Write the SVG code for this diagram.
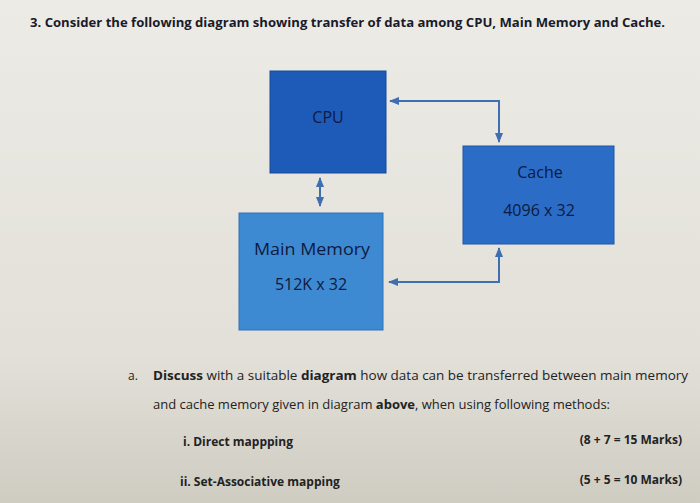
<svg xmlns="http://www.w3.org/2000/svg" width="700" height="503" viewBox="0 0 700 503">
<defs>
<linearGradient id="bg" x1="0" y1="0" x2="0" y2="1"><stop offset="0" stop-color="#ecebe6"/><stop offset="0.7" stop-color="#e2e0d8"/><stop offset="1" stop-color="#cfcdc2"/></linearGradient>
<marker id="ah" viewBox="0 0 10 10" refX="9" refY="5" markerWidth="5" markerHeight="5" orient="auto-start-reverse"><path d="M0,1 L10,5 L0,9 z" fill="#3f6fb0"/></marker>
<style>
text{font-family:"Open Sans","Liberation Sans",sans-serif;fill:#1a1a2a}
.b{font-weight:bold}
.n{font-size:16px;fill:#0e1a40}
.q{font-size:12px;fill:#222}
.c{fill:none;stroke:#3f6fb0;stroke-width:2}
</style>
</defs>
<rect width="700" height="503" fill="url(#bg)"/>
<text x="30" y="27" font-size="13" class="b" textLength="635" lengthAdjust="spacingAndGlyphs">3.  Consider the following diagram showing transfer of data among CPU, Main Memory and Cache.</text>
<g id="cpu"><rect x="270" y="71" width="116" height="102" fill="#1e5ab8" stroke="#174a9a"/><text x="328" y="123" class="n" text-anchor="middle">CPU</text></g>
<g id="cache"><rect x="463" y="146" width="151" height="98" fill="#2a6cc6" stroke="#1f56a8"/><text x="540" y="178" class="n" text-anchor="middle">Cache</text><text x="539" y="216" class="n" text-anchor="middle">4096 x 32</text></g>
<g id="mainmem"><rect x="239" y="213" width="144" height="117" fill="#3d8ad2" stroke="#2e72b8"/><text x="312" y="255" class="n" text-anchor="middle" textLength="116" lengthAdjust="spacingAndGlyphs">Main Memory</text><text x="311" y="290" class="n" text-anchor="middle">512K x 32</text></g>
<g id="connectors">
<path class="c" d="M390,101 H499 V142" marker-start="url(#ah)" marker-end="url(#ah)"/>
<path class="c" d="M389,282 H499 V248" marker-start="url(#ah)" marker-end="url(#ah)"/>
<path class="c" d="M320,178 V206" marker-start="url(#ah)" marker-end="url(#ah)"/>
</g>
<text x="128" y="380" class="q">a.</text>
<text x="153" y="380" class="q" textLength="535" lengthAdjust="spacingAndGlyphs"><tspan class="b">Discuss</tspan> with a suitable <tspan class="b">diagram</tspan> how data can be transferred between main memory</text>
<text x="153" y="409" class="q" textLength="457" lengthAdjust="spacingAndGlyphs">and cache memory given in diagram <tspan class="b">above</tspan>, when using following methods:</text>
<text x="183" y="446" class="q b">i.  Direct mappping</text>
<text x="682" y="444" class="q b" text-anchor="end">(8 + 7 = 15 Marks)</text>
<text x="180" y="486" class="q b">ii.  Set-Associative mapping</text>
<text x="682" y="484" class="q b" text-anchor="end">(5 + 5 = 10 Marks)</text>
</svg>
